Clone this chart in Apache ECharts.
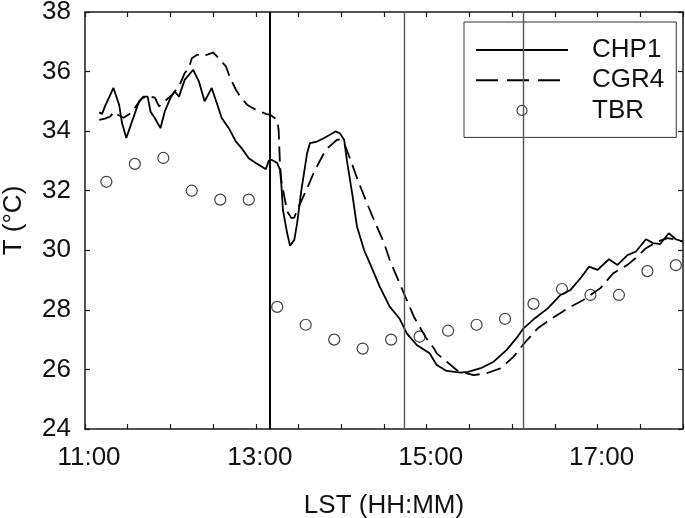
<!DOCTYPE html>
<html>
<head>
<meta charset="utf-8">
<script src="https://cdn.jsdelivr.net/npm/echarts@6/dist/echarts.min.js"></script>
<style>
html,body{margin:0;padding:0;background:#fff;}
#chart{width:685px;height:518px;}
</style>
</head>
<body>
<div id="chart"></div>
<script>
// ---- data (local standard time, temperature in °C) ----
const chp1Times = ["11:10","11:12","11:14","11:20","11:24","11:26","11:29","11:33","11:38","11:41","11:44","11:46","11:49","11:53","11:56","12:00","12:03","12:06","12:10","12:16","12:20","12:24","12:29","12:33","12:36","12:41","12:46","12:50","12:55","13:00","13:04","13:07","13:09","13:11","13:15","13:17","13:18","13:19","13:22","13:24","13:27","13:29","13:32","13:36","13:38","13:43","13:48","13:52","13:56","13:59","14:02","14:04","14:08","14:11","14:16","14:20","14:27","14:34","14:41","14:46","14:53","15:02","15:07","15:14","15:24","15:29","15:38","15:47","15:56","16:03","16:08","16:16","16:25","16:34","16:41","16:48","16:54","17:00","17:08","17:14","17:21","17:27","17:34","17:39","17:44","17:50","17:55","18:00"];
const chp1Temps = [34.63,34.58,34.83,35.45,34.88,34.27,33.77,34.32,35.00,35.16,35.16,34.66,34.44,34.10,34.66,35.11,35.33,35.16,35.72,36.06,35.67,35.00,35.45,34.88,34.44,34.10,33.65,33.43,33.09,32.93,32.81,32.72,33.00,33.04,32.93,32.70,32.14,31.36,30.57,30.15,30.35,30.91,32.03,33.26,33.60,33.65,33.77,33.88,33.99,33.93,33.71,33.00,31.80,30.80,30.01,29.57,28.78,28.11,27.70,27.21,26.82,26.54,26.15,25.95,25.89,25.92,26.04,26.26,26.65,27.05,27.38,27.72,28.05,28.50,28.67,29.06,29.45,29.34,29.70,29.51,29.84,29.96,30.37,30.24,30.21,30.57,30.37,30.29];

const cgr4Times = ["11:10","11:14","11:18","11:20","11:23","11:27","11:32","11:36","11:40","11:44","11:49","11:52","11:56","12:01","12:06","12:10","12:13","12:15","12:19","12:22","12:26","12:30","12:34","12:39","12:42","12:46","12:49","12:54","13:00","13:07","13:10","13:15","13:16","13:17","13:18","13:22","13:25","13:27","13:29","13:35","13:41","13:49","13:57","13:59","14:02","14:06","14:12","14:19","14:24","14:30","14:34","14:40","14:45","14:51","14:59","15:05","15:07","15:14","15:21","15:24","15:33","15:42","15:52","16:01","16:08","16:18","16:27","16:39","16:50","17:02","17:11","17:21","17:28","17:34","17:42","17:49","17:56","18:00"];
const cgr4Temps = [34.38,34.42,34.50,34.65,34.55,34.45,34.60,34.85,35.10,35.16,35.13,34.83,35.00,35.22,35.50,35.95,36.12,36.45,36.57,36.51,36.57,36.64,36.45,36.17,35.78,35.39,35.16,34.88,34.72,34.58,34.55,34.38,34.04,32.81,32.30,31.30,31.08,31.10,31.36,31.97,32.64,33.37,33.71,33.72,33.60,33.10,32.30,31.47,30.90,30.25,29.68,29.00,28.44,27.77,27.10,26.71,26.54,26.26,25.98,25.92,25.81,25.87,26.04,26.43,26.85,27.38,27.68,28.05,28.33,28.73,29.23,29.51,29.79,30.07,30.29,30.41,30.35,30.29];

const tbrTimes = ["11:15","11:35","11:55","12:15","12:35","12:55","13:15","13:35","13:55","14:15","14:35","14:55","15:15","15:35","15:55","16:15","16:35","16:55","17:15","17:35","17:55"];
const tbrTemps = [32.3,32.9,33.1,32.0,31.7,31.7,28.1,27.5,27.0,26.7,27.0,27.1,27.3,27.5,27.7,28.2,28.7,28.5,28.5,29.3,29.5];

const markerTimes = ["13:09.5","14:44","16:08"];
const xTickLabels = ["11:00","13:00","15:00","17:00"];
const seriesNames = ["CHP1","CGR4","TBR"];

// ---- helpers ----
function toMin(s){ const p = s.split(":"); return (+p[0])*60 + parseFloat(p[1]); }
function fmt(m){ const h = Math.floor(m/60), mm = Math.round(m%60); return h + ":" + (mm<10?"0":"") + mm; }
function pairs(ts, vs){ return ts.map((t,i)=>[toMin(t), vs[i]]); }

const FONT = "Liberation Sans, Arial, sans-serif";
const AX = '#1a1a1a';
const chart = echarts.init(document.getElementById('chart'), null, {renderer:'canvas'});

const xCommon = {
  type:'value', min:660, max:1080, interval:30,
  axisLine:{show:true, onZero:false, lineStyle:{color:AX, width:1.5}},
  axisTick:{show:true, inside:true, length:5, lineStyle:{color:AX, width:1.2}},
  splitLine:{show:false}
};
const yCommon = {
  type:'value', min:24, max:38, interval:2,
  axisLine:{show:true, onZero:false, lineStyle:{color:AX, width:1.5}},
  axisTick:{show:true, inside:true, length:5, lineStyle:{color:AX, width:1.2}},
  splitLine:{show:false}
};

const option = {
  animation:false,
  backgroundColor:'#fff',
  grid:{left:85, right:2, top:12, bottom:89, containLabel:false, outerBoundsMode:'none'},
  xAxis:[
    Object.assign({}, xCommon, {
      position:'bottom',
      axisLabel:{
        show:true, fontSize:26, color:'#111', fontFamily:FONT, margin:16, padding:[0,0,0,8],
        formatter:function(v){ const s = fmt(v); return xTickLabels.indexOf(s) >= 0 ? s : ''; }
      },
      name:'LST (HH:MM)', nameLocation:'middle', nameGap:64,
      nameTextStyle:{fontSize:26, color:'#111', fontFamily:FONT}
    }),
    Object.assign({}, xCommon, {position:'top', axisLabel:{show:false}})
  ],
  yAxis:[
    Object.assign({}, yCommon, {
      position:'left',
      axisLabel:{show:true, fontSize:26, color:'#111', fontFamily:FONT, margin:14},
      name:'T (°C)', nameLocation:'middle', nameGap:58, nameRotate:90,
      nameTextStyle:{fontSize:26, color:'#111', fontFamily:FONT}
    }),
    Object.assign({}, yCommon, {position:'right', axisLabel:{show:false}})
  ],
  legend:{
    orient:'vertical', left:464, top:22,
    padding:[15,12,14,11], itemGap:4.2, itemWidth:92, itemHeight:10,
    backgroundColor:'#fff', borderColor:'#333', borderWidth:1, borderRadius:0,
    textStyle:{fontSize:26, color:'#111', fontFamily:FONT, padding:[0,0,0,19], lineHeight:24},
    data:[
      {name:seriesNames[0], itemStyle:{opacity:0}},
      {name:seriesNames[1], itemStyle:{opacity:0}, lineStyle:{type:[22,9]}},
      {name:seriesNames[2], icon:'circle', itemStyle:{color:'#fff', borderColor:'#111', borderWidth:1.2}}
    ]
  },
  series:[
    {
      name:seriesNames[0], type:'line', symbol:'none', smooth:false,
      xAxisIndex:0, yAxisIndex:0,
      lineStyle:{color:'#000', width:1.8, type:'solid'},
      itemStyle:{color:'#000'},
      data:pairs(chp1Times, chp1Temps),
      markLine:{
        silent:true, symbol:['none','none'], label:{show:false},
        data:markerTimes.map((t,i)=>({xAxis:toMin(t), lineStyle:{color:i===0?'#000':'#555', width:i===0?2:1.4, type:'solid'}}))
      }
    },
    {
      name:seriesNames[1], type:'line', symbol:'none', smooth:false,
      xAxisIndex:0, yAxisIndex:0,
      lineStyle:{color:'#000', width:1.8, type:[15,7]},
      itemStyle:{color:'#000'},
      data:pairs(cgr4Times, cgr4Temps)
    },
    {
      name:seriesNames[2], type:'scatter', symbol:'circle', symbolSize:11,
      xAxisIndex:0, yAxisIndex:0,
      itemStyle:{color:'rgba(255,255,255,0)', borderColor:'#111', borderWidth:1.2},
      data:pairs(tbrTimes, tbrTemps)
    }
  ]
};
chart.setOption(option);
</script>
</body>
</html>
